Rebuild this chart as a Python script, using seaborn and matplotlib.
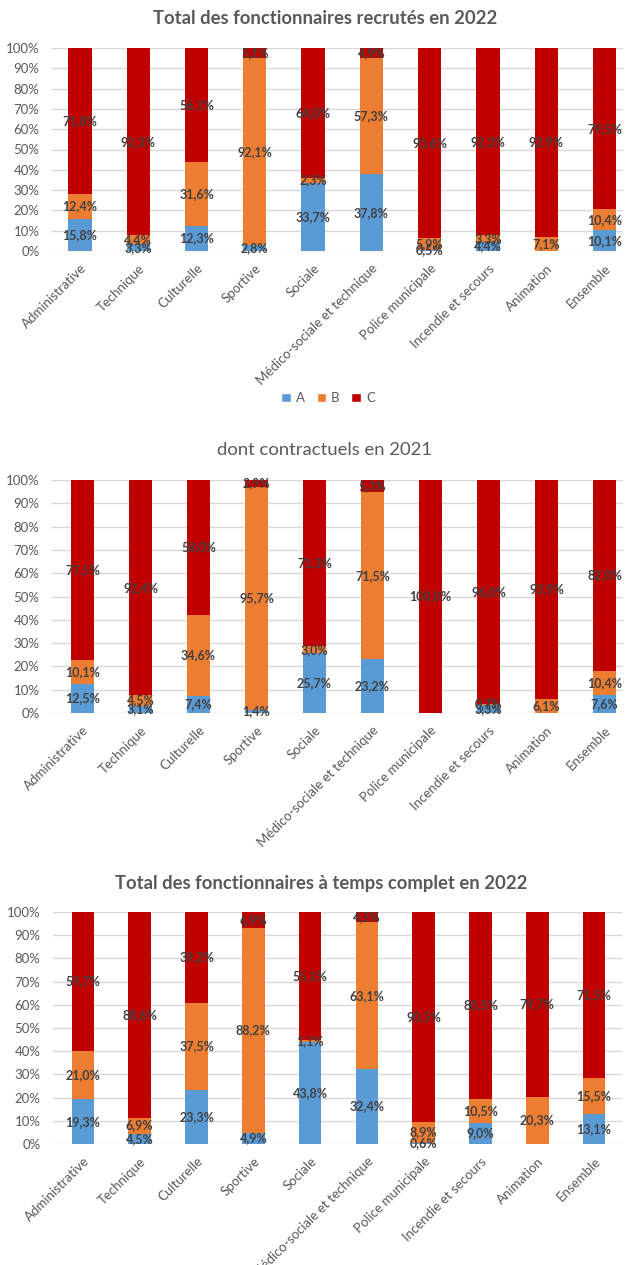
import numpy as np
import pandas as pd
import seaborn as sns
import matplotlib.pyplot as plt
from matplotlib.patches import Patch

sns.set_theme(style="white")
plt.rcParams['font.family'] = ['Lato', 'DejaVu Sans']

categories = ["Administrative", "Technique", "Culturelle", "Sportive", "Sociale",
              "Médico-sociale et technique", "Police municipale", "Incendie et secours",
              "Animation", "Ensemble"]

# panel 1 : Total des fonctionnaires recrutés en 2022
rec_A = [15.8, 3.3, 12.3, 2.8, 33.7, 37.8, 0.5, 4.4, 0.0, 10.1]
rec_B = [12.4, 4.4, 31.6, 92.1, 2.3, 57.3, 5.9, 3.3, 7.1, 10.4]
rec_C = [71.8, 92.3, 56.1, 5.1, 64.0, 4.9, 93.6, 92.3, 92.9, 79.5]

# panel 2 : dont contractuels en 2021
con_A = [12.5, 3.1, 7.4, 1.4, 25.7, 23.2, 0.0, 3.3, 0.0, 7.6]
con_B = [10.1, 4.5, 34.6, 95.7, 3.0, 71.5, 0.0, 0.7, 6.1, 10.4]
con_C = [77.5, 92.4, 58.0, 2.9, 71.3, 5.3, 100.0, 96.0, 93.9, 82.0]

# panel 3 : Total des fonctionnaires à temps complet en 2022
tc_A = [19.3, 4.5, 23.3, 4.9, 43.8, 32.4, 0.6, 9.0, 0.0, 13.1]
tc_B = [21.0, 6.9, 37.5, 88.2, 1.1, 63.1, 8.9, 10.5, 20.3, 15.5]
tc_C = [59.7, 88.6, 39.2, 6.9, 55.1, 4.5, 90.5, 80.5, 79.7, 71.5]

titles = ["Total des fonctionnaires recrutés en 2022",
          "dont contractuels en 2021",
          "Total des fonctionnaires à temps complet en 2022"]
title_bold = [True, False, True]

colors = {"A": "#5B9BD5", "B": "#ED7D31", "C": "#C00000"}
grey = "#595959"
lab_col = "#404040"

W, H = 629, 1265
fig = plt.figure(figsize=(W / 100, H / 100), dpi=100)

# pixel layout: top (100%), bottom (0%), left, right, title y, title x
layout = [
    dict(top=48, bottom=251, left=52, right=623, c0=80, c9=604.5, ty=18, tx=325),
    dict(top=480, bottom=713, left=52, right=623, c0=82.5, c9=604.5, ty=450, tx=325),
    dict(top=912, bottom=1144, left=53, right=622, c0=83, c9=594, ty=883, tx=321),
]

panels = [(rec_A, rec_B, rec_C), (con_A, con_B, con_C), (tc_A, tc_B, tc_C)]

def fmt(v):
    return f"{v:.1f}".replace(".", ",") + "%"

for i, ((a, b, c), lay, title) in enumerate(zip(panels, layout, titles)):
    ax = fig.add_axes([lay["left"] / W, 1 - lay["bottom"] / H,
                       (lay["right"] - lay["left"]) / W, (lay["bottom"] - lay["top"]) / H])
    df = pd.DataFrame({"cat": categories, "A": a, "B": b, "C": c})
    df["AB"] = df["A"] + df["B"]
    df["ABC"] = df["AB"] + df["C"]
    # stacked bars drawn as overlapping cumulative totals
    sns.barplot(data=df, x="cat", y="ABC", color=colors["C"], width=0.4,
                saturation=1, ax=ax, edgecolor="none")
    sns.barplot(data=df, x="cat", y="AB", color=colors["B"], width=0.4,
                saturation=1, ax=ax, edgecolor="none")
    sns.barplot(data=df, x="cat", y="A", color=colors["A"], width=0.4,
                saturation=1, ax=ax, edgecolor="none")

    # data labels
    for j in range(len(categories)):
        bottoms = [0, a[j], a[j] + b[j]]
        for v, bot in zip([a[j], b[j], c[j]], bottoms):
            if v > 0:
                ax.text(j, bot + v / 2, fmt(v), ha="center", va="center",
                        fontsize=9, fontweight="bold", color=lab_col)

    sp = (lay["c9"] - lay["c0"]) / 9
    ax.set_xlim((lay["left"] - lay["c0"]) / sp, (lay["right"] - lay["c0"]) / sp)
    ax.set_ylim(0, 100)
    ax.set_yticks(np.arange(0, 101, 10))
    ax.set_yticklabels([f"{t}%" for t in range(0, 101, 10)], fontsize=9.5, color=grey)
    ax.yaxis.grid(True, color="#D9D9D9", linewidth=1)
    ax.set_axisbelow(True)
    for s in ax.spines.values():
        s.set_visible(False)
    ax.tick_params(axis="y", length=0, pad=9)
    ax.tick_params(axis="x", length=0, pad=8)
    ax.set_xticks(range(len(categories)))
    ax.set_xticklabels(categories, rotation=45, ha="right", va="top",
                       rotation_mode="anchor", fontsize=9.5, color=grey)
    ax.set_xlabel("")
    ax.set_ylabel("")

    fig.text(lay["tx"] / W, 1 - lay["ty"] / H, title, ha="center", va="center",
             fontsize=13.3, color=grey, fontweight="bold" if title_bold[i] else "normal")

handles = [Patch(facecolor=colors[k], label=k) for k in ["A", "B", "C"]]
fig.legend(handles=handles, loc="center", bbox_to_anchor=(328 / W, 1 - 398 / H),
           ncol=3, frameon=False, fontsize=9.5, handlelength=0.75, handleheight=0.75,
           columnspacing=0.9, handletextpad=0.35, labelcolor=grey)

fig.savefig("out.png", dpi=100)
